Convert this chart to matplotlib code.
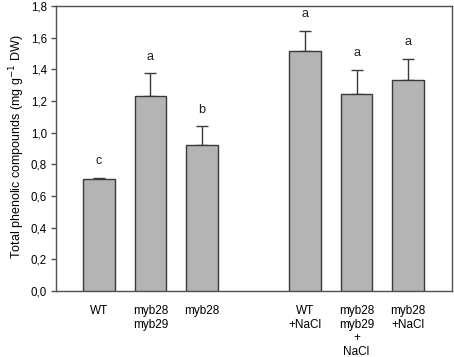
import matplotlib
matplotlib.use("Agg")
import matplotlib.pyplot as plt
import numpy as np

plt.rcParams['font.family'] = ['Liberation Sans', 'DejaVu Sans']

categories = ["WT", "myb28\nmyb29", "myb28", "WT\n+NaCl", "myb28\nmyb29\n+\nNaCl", "myb28\n+NaCl"]
positions = [0, 1, 2, 4, 5, 6]
values = [0.709, 1.234, 0.920, 1.518, 1.246, 1.335]
errors = [0.005, 0.14, 0.12, 0.125, 0.15, 0.13]
letters = ["c", "a", "b", "a", "a", "a"]
yticks = [0.0, 0.2, 0.4, 0.6, 0.8, 1.0, 1.2, 1.4, 1.6, 1.8]

fig = plt.figure(figsize=(4.54, 3.57), dpi=100)
ax = fig.add_axes([56/454, 1 - 291/357, 396/454, 285/357])

edge = '#3a3a3a'
ax.bar(positions, values, width=0.61, color='#b4b4b4', edgecolor=edge, linewidth=1.0, zorder=3)
ax.errorbar(positions, values, yerr=[np.zeros(len(errors)), errors], fmt='none',
            ecolor=edge, elinewidth=1.0, capsize=4, capthick=1.0, zorder=2)
for p, v, e, l in zip(positions, values, errors, letters):
    ax.text(p, v + e + 0.105, l, ha='center', va='center', fontsize=9, color='#202020')

ax.set_xlim(-0.83, 6.85)
ax.set_ylim(0, 1.8)
ax.set_yticks(yticks)
ax.set_yticklabels([f"{t:.1f}".replace('.', ',') for t in yticks], fontsize=8.3)
ax.set_xticks(positions)
ax.set_xticklabels(categories, fontsize=8.5, linespacing=1.2, va='top')
ax.tick_params(axis='x', length=0, pad=10)
ax.tick_params(axis='y', length=3.5, width=1, direction='out', pad=3, color='#505050')
for s in ax.spines.values():
    s.set_color('#505050')
    s.set_linewidth(1.0)
ax.set_ylabel("Total phenolic compounds (mg g$^{-1}$ DW)", fontsize=9)
ax.yaxis.set_label_coords(-0.072, 0.505)

fig.savefig("out.png", dpi=100)
